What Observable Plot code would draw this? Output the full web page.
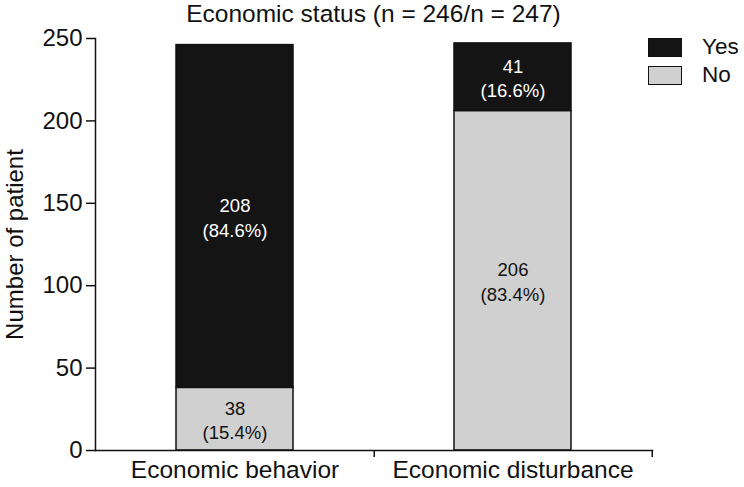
<!DOCTYPE html>
<html>
<head>
<meta charset="utf-8">
<script src="https://cdn.jsdelivr.net/npm/d3@7"></script>
<script src="https://cdn.jsdelivr.net/npm/@observablehq/plot@0.6"></script>
<style>
  body { margin: 0; background: #fff; }
  #wrap { position: relative; width: 744px; height: 487px; font-family: "Liberation Sans", Arial, sans-serif; }
  #title { height: 28px; line-height: 28px; font-size: 24.5px; text-align: center; padding-left: 95px; padding-right: 92px; color: #111; }
  #legend { position: absolute; left: 648px; top: 33px; font-size: 22.5px; color: #111; }
  .item { display: flex; align-items: center; height: 28px; }
  .sw { width: 34px; height: 19px; border: 1.5px solid #111; box-sizing: border-box; margin-right: 20px; }
</style>
</head>
<body>
<div id="wrap">
  <div id="title">Economic status (n = 246/n = 247)</div>
  <div id="chart"></div>
  <div id="legend"></div>
</div>
<script>
const categories = ["Economic behavior", "Economic disturbance"];
const seriesNames = ["Yes", "No"];
const yesValues = [208, 41];
const noValues = [38, 206];
const yesPct = ["84.6%", "16.6%"];
const noPct = ["15.4%", "83.4%"];
const yTicks = [0, 50, 100, 150, 200, 250];
const colors = {Yes: "#141414", No: "#d0d0d0"};
const textColors = {Yes: "#ffffff", No: "#111111"};

const rows = [];
categories.forEach((c, i) => {
  rows.push({category: c, series: "No", value: noValues[i], pct: noPct[i]});
  rows.push({category: c, series: "Yes", value: yesValues[i], pct: yesPct[i]});
});

const W = 744, H = 459;
const mL = 95, mR = 92, mT = 10, mB = 37;
const step = (W - mL - mR) / categories.length;

const stackOpts = {x: "category", y: "value", z: "series", order: ["No", "Yes"]};

const chart = Plot.plot({
  width: W, height: H,
  marginLeft: mL, marginRight: mR, marginTop: mT, marginBottom: mB,
  style: {fontFamily: "Liberation Sans, Arial, sans-serif", color: "#111", background: "#fff", overflow: "visible"},
  x: {domain: categories, paddingInner: 0.58, paddingOuter: 0.29, axis: null},
  y: {domain: [0, 250], axis: null},
  marks: [
    Plot.barY(rows, Plot.stackY({...stackOpts, fill: d => colors[d.series], stroke: "#111", strokeWidth: 1.5})),
    Plot.text(rows, Plot.stackY({...stackOpts, text: d => `${d.value}\n(${d.pct})`, fill: d => textColors[d.series], fontSize: 18.5, lineHeight: 1.33})),
    Plot.frame({anchor: "left", stroke: "#111", strokeWidth: 1.5}),
    Plot.frame({anchor: "bottom", stroke: "#111", strokeWidth: 1.5}),
    Plot.axisY({ticks: yTicks, tickSize: 9, tickPadding: 4, fontSize: 24, strokeWidth: 1.5,
      label: "Number of patient", labelAnchor: "center", labelArrow: "none", labelOffset: 90}),
    Plot.axisX({tickSize: 7, strokeWidth: 1.5, tickFormat: () => "", dx: step / 2, label: null}),
    Plot.axisX({tickSize: 0, tickPadding: 10, fontSize: 24.5, label: null})
  ]
});
document.getElementById("chart").appendChild(chart);

const legend = document.getElementById("legend");
seriesNames.forEach(s => {
  const it = document.createElement("div");
  it.className = "item";
  const sw = document.createElement("div");
  sw.className = "sw";
  sw.style.background = colors[s];
  const t = document.createElement("span");
  t.textContent = s;
  it.appendChild(sw); it.appendChild(t);
  legend.appendChild(it);
});
</script>
</body>
</html>
